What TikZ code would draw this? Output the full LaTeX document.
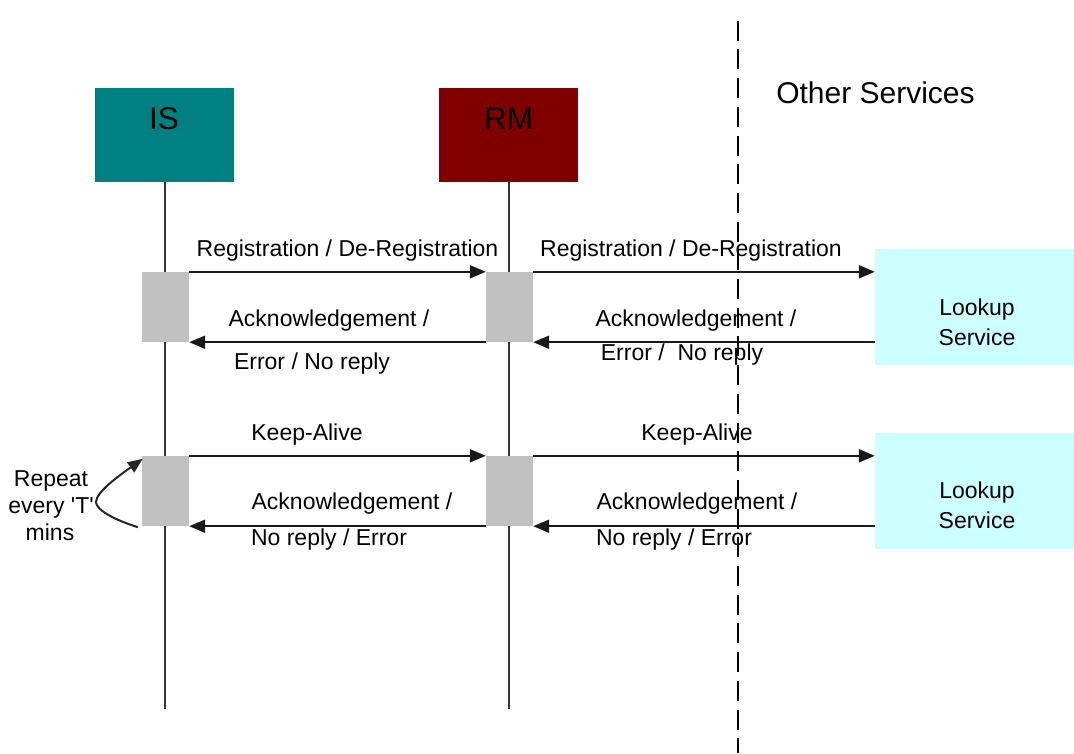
\documentclass[tikz,border=0pt]{standalone}
\usepackage{fontspec}
\setmainfont{Liberation Sans}
\usetikzlibrary{arrows.meta}
\definecolor{isteal}{HTML}{008080}
\definecolor{rmred}{HTML}{800000}
\definecolor{actgray}{HTML}{C0C0C0}
\definecolor{lookupcyan}{HTML}{CCFFFF}
\begin{document}
\begin{tikzpicture}[x=1pt,y=-1pt,
  lbl/.style={anchor=base, inner sep=0pt, font=\fontsize{23}{27}\selectfont},
  head/.style={anchor=base, inner sep=0pt, font=\fontsize{31.5}{36}\selectfont},
  actor/.style={draw=none, inner sep=0pt, minimum width=139pt, minimum height=93.4pt},
  act/.style={fill=actgray, inner sep=0pt, minimum width=47pt, minimum height=70pt},
  lkbox/.style={fill=lookupcyan, inner sep=0pt, minimum width=199pt, minimum height=116pt},
  life/.style={line width=2pt, draw=black!80},
  msg/.style={line width=2pt, draw=black!90, -{Triangle[length=16pt,width=13pt]}},
  loopback/.style={line width=2pt, draw=black!85, -{Triangle[length=15pt,width=12pt]}},
  boundary/.style={line width=2.2pt, dash pattern=on 20pt off 8.7pt},
]
\useasboundingbox (0,0) rectangle (1074,753);

% participants
\node[actor, fill=isteal] (IS) at (164.5,135) {};
\node[actor, fill=rmred]  (RM) at (508.5,135) {};
\node[head] (IStxt) at (164,129.3) {IS};
\node[head] (RMtxt) at (508.5,129.3) {RM};
\node[anchor=base, inner sep=0pt, font=\fontsize{30}{34}\selectfont] (other) at (875.5,103.3) {Other Services};

% lifelines
\coordinate (isEnd) at (164.5,709);
\coordinate (rmEnd) at (508.5,709);
\draw[life] (IS.south) -- (isEnd);
\draw[life] (RM.south) -- (rmEnd);

% activation bars
\node[act] (isA1) at (165.5,307) {};
\node[act] (rmA1) at (509.5,307) {};
\node[act] (isA2) at (165.5,491) {};
\node[act] (rmA2) at (509.5,491) {};

% lookup services
\node[lkbox] (lk1) at (974.5,307.3) {};
\node[lkbox, minimum height=116.6pt] (lk2) at (974.5,491) {};
\node[lbl] (lk1a) at (977,315) {Lookup};
\node[lbl] (lk1b) at (977,345) {Service};
\node[lbl] (lk2a) at (977,498.4) {Lookup};
\node[lbl] (lk2b) at (977,528.4) {Service};

% registration exchange
\draw[msg] (isA1.north east) -- (rmA1.north west);
\draw[msg] (rmA1.north east) -- (rmA1.north east -| lk1.west);
\draw[msg] (rmA1.south west) -- (isA1.south east);
\draw[msg] (rmA1.south east -| lk1.west) -- (rmA1.south east);

% keep-alive exchange
\draw[msg] (isA2.north east) -- (rmA2.north west);
\draw[msg] (rmA2.north east) -- (rmA2.north east -| lk2.west);
\draw[msg] (rmA2.south west) -- (isA2.south east);
\draw[msg] (rmA2.south east -| lk2.west) -- (rmA2.south east);

% message labels
\node[lbl] (reg1) at (347.5,256.7) {Registration / De-Registration};
\node[lbl] (reg2) at (691,256.7) {Registration / De-Registration};
\node[lbl] (ack1) at (329,326.7) {Acknowledgement /};
\node[lbl] (ack2) at (696,326.7) {Acknowledgement /};
\node[lbl] (err1) at (312,369) {Error / No reply};
\node[lbl] (err2) at (682,360) {Error /\ \ No reply};
\node[lbl] (ka1) at (307,440.7) {Keep-Alive};
\node[lbl] (ka2) at (697,440.7) {Keep-Alive};
\node[lbl] (ack3) at (352,509.3) {Acknowledgement /};
\node[lbl] (ack4) at (697,509.3) {Acknowledgement /};
\node[lbl] (nr1) at (329,545) {No reply / Error};
\node[lbl] (nr2) at (674,545) {No reply / Error};

% periodic repeat
\node[lbl] (rep1) at (51,486) {Repeat};
\node[lbl] (rep2) at (51,513.5) {every \textquotesingle T\textquotesingle};
\node[lbl] (rep3) at (50,540) {mins};
\draw[loopback] ([xshift=-4pt,yshift=-1pt]isA2.south west)
  .. controls (115,520) and (96,510) .. (96,502)
  .. controls (96,492) and (120,475) .. ([xshift=1pt,yshift=-3pt]isA2.north west);

% boundary to other services
\coordinate (dTop) at (738,20.7);
\coordinate (dBot) at (738,753);
\draw[boundary] (dTop) -- (dBot);
\end{tikzpicture}
\end{document}
